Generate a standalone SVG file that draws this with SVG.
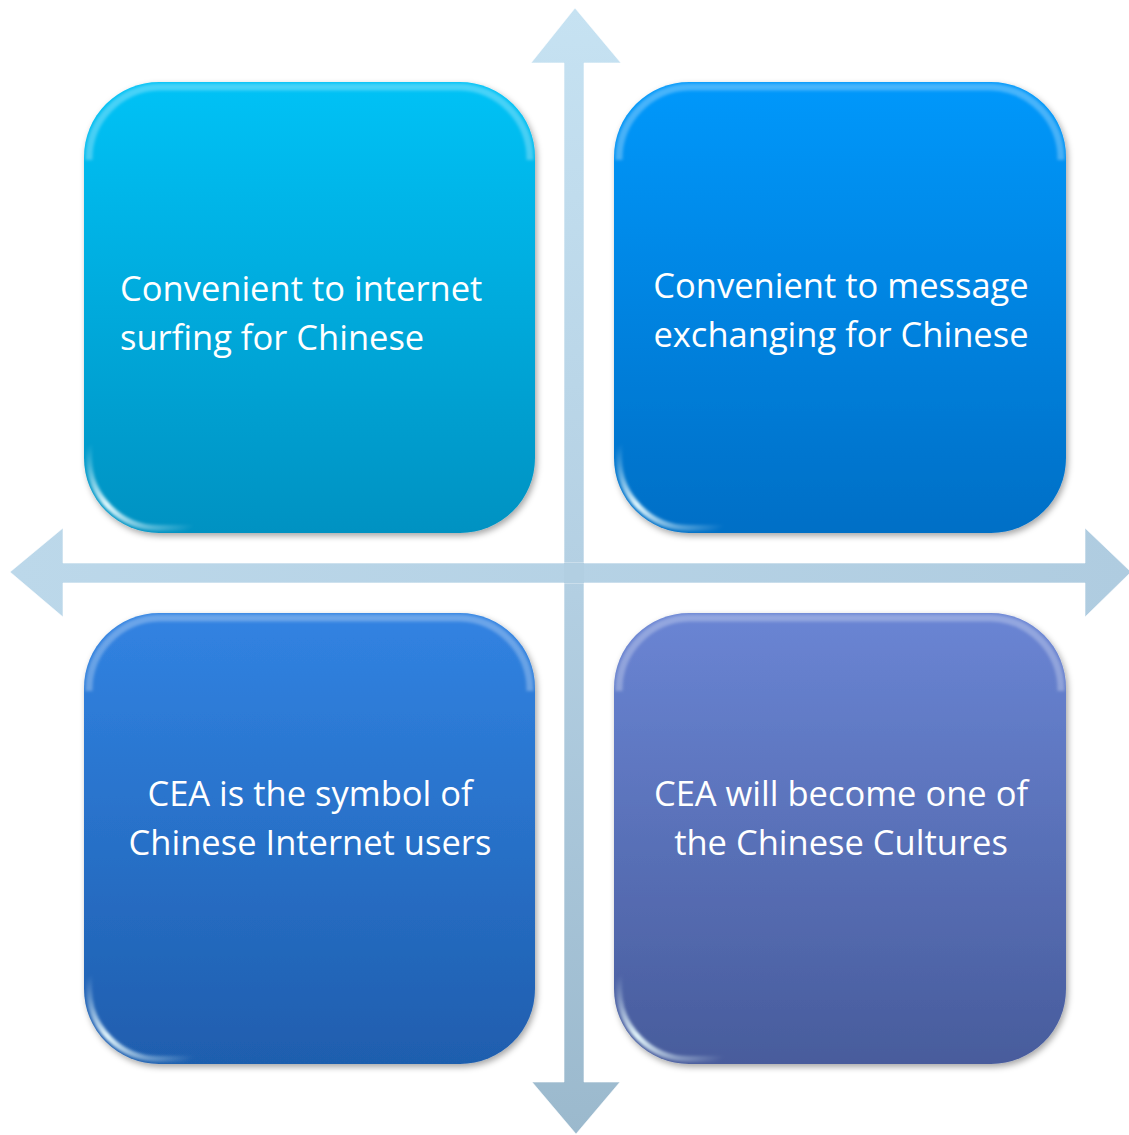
<svg xmlns="http://www.w3.org/2000/svg" width="1129" height="1135" viewBox="0 0 1129 1135">
<defs>
<style>
.lbl{font-family:"Open Sans","Noto Sans","Liberation Sans",sans-serif;font-size:34.5px;fill:#ffffff}
.mid{text-anchor:middle}
.box{filter:url(#sh)}
.top{fill:none;stroke:#ffffff;stroke-opacity:0.28;stroke-width:7}
.glow{fill:none;stroke:url(#gl);stroke-linecap:round;stroke-width:6}
</style>
<linearGradient id="g1" x1="0" y1="0" x2="0" y2="1"><stop offset="0" stop-color="#00c2f6"/><stop offset="1" stop-color="#0092c2"/></linearGradient>
<linearGradient id="g2" x1="0" y1="0" x2="0" y2="1"><stop offset="0" stop-color="#0098fb"/><stop offset="1" stop-color="#006fc6"/></linearGradient>
<linearGradient id="g3" x1="0" y1="0" x2="0" y2="1"><stop offset="0" stop-color="#3183e2"/><stop offset="1" stop-color="#1f5eae"/></linearGradient>
<linearGradient id="g4" x1="0" y1="0" x2="0" y2="1"><stop offset="0" stop-color="#6a85d4"/><stop offset="1" stop-color="#485c9c"/></linearGradient>
<linearGradient id="gl" x1="0" y1="0" x2="1" y2="1"><stop offset="0" stop-color="#eafcff" stop-opacity="0"/><stop offset="0.45" stop-color="#eafcff" stop-opacity="0.95"/><stop offset="1" stop-color="#eafcff" stop-opacity="0"/></linearGradient>
<linearGradient id="gv" x1="0" y1="0" x2="0" y2="1"><stop offset="0" stop-color="#c6e2f2"/><stop offset="0.5" stop-color="#b4d0e3"/><stop offset="1" stop-color="#9bb9cd"/></linearGradient>
<linearGradient id="gh" x1="0" y1="0" x2="1" y2="0"><stop offset="0" stop-color="#bcd8ea"/><stop offset="1" stop-color="#afcce0"/></linearGradient>
<filter id="sh" x="-10%" y="-10%" width="125%" height="125%"><feDropShadow dx="2" dy="3" stdDeviation="3" flood-color="#000" flood-opacity="0.35"/></filter>
<filter id="blur" x="-20%" y="-20%" width="140%" height="140%"><feGaussianBlur stdDeviation="1.5"/></filter>
</defs>
<g id="connectors">
<path d="M575,8 L621,63 L584,63 L584,1082 L620,1082 L576,1134 L532,1082 L564,1082 L564,63 L531,63 Z" fill="url(#gv)" stroke="#ffffff" stroke-width="1" stroke-opacity="0.6"/>
<path d="M10,572 L63,528 L63,563 L1085,563 L1085,528 L1131,572 L1085,617 L1085,583 L63,583 L63,617 Z" fill="url(#gh)" stroke="#ffffff" stroke-width="1" stroke-opacity="0.6"/>
<path d="M564,563 L584,563 L584,583 L564,583 Z" fill="#b2cfe2"/>
</g>
<g id="node-tl">
<rect class="box" x="84" y="82" width="451" height="451" rx="75" fill="url(#g1)"/>
<path class="top" d="M89,160 A72,72 0 0 1 159,87 L460,87 A72,72 0 0 1 530,160" filter="url(#blur)"/>
<path class="glow" d="M89,445 L89,458 A70,70 0 0 0 159,528 L192,528" filter="url(#blur)"/>
<text class="lbl" x="120" y="301">Convenient to internet</text>
<text class="lbl" x="120" y="350">surfing for Chinese</text>
</g>
<g id="node-tr">
<rect class="box" x="614" y="82" width="452" height="451" rx="75" fill="url(#g2)"/>
<path class="top" d="M619,160 A72,72 0 0 1 689,87 L991,87 A72,72 0 0 1 1061,160" filter="url(#blur)"/>
<path class="glow" d="M619,445 L619,458 A70,70 0 0 0 689,528 L722,528" filter="url(#blur)"/>
<text class="lbl mid" x="841" y="298">Convenient to message</text>
<text class="lbl mid" x="841" y="347">exchanging for Chinese</text>
</g>
<g id="node-bl">
<rect class="box" x="84" y="613" width="451" height="451" rx="75" fill="url(#g3)"/>
<path class="top" d="M89,691 A72,72 0 0 1 159,618 L460,618 A72,72 0 0 1 530,691" filter="url(#blur)"/>
<path class="glow" d="M89,976 L89,989 A70,70 0 0 0 159,1059 L192,1059" filter="url(#blur)"/>
<text class="lbl mid" x="310" y="806">CEA is the symbol of</text>
<text class="lbl mid" x="310" y="855">Chinese Internet users</text>
</g>
<g id="node-br">
<rect class="box" x="614" y="613" width="452" height="451" rx="75" fill="url(#g4)"/>
<path class="top" d="M619,691 A72,72 0 0 1 689,618 L991,618 A72,72 0 0 1 1061,691" filter="url(#blur)"/>
<path class="glow" d="M619,976 L619,989 A70,70 0 0 0 689,1059 L722,1059" filter="url(#blur)"/>
<text class="lbl mid" x="841" y="806">CEA will become one of</text>
<text class="lbl mid" x="841" y="855">the Chinese Cultures</text>
</g>
</svg>
